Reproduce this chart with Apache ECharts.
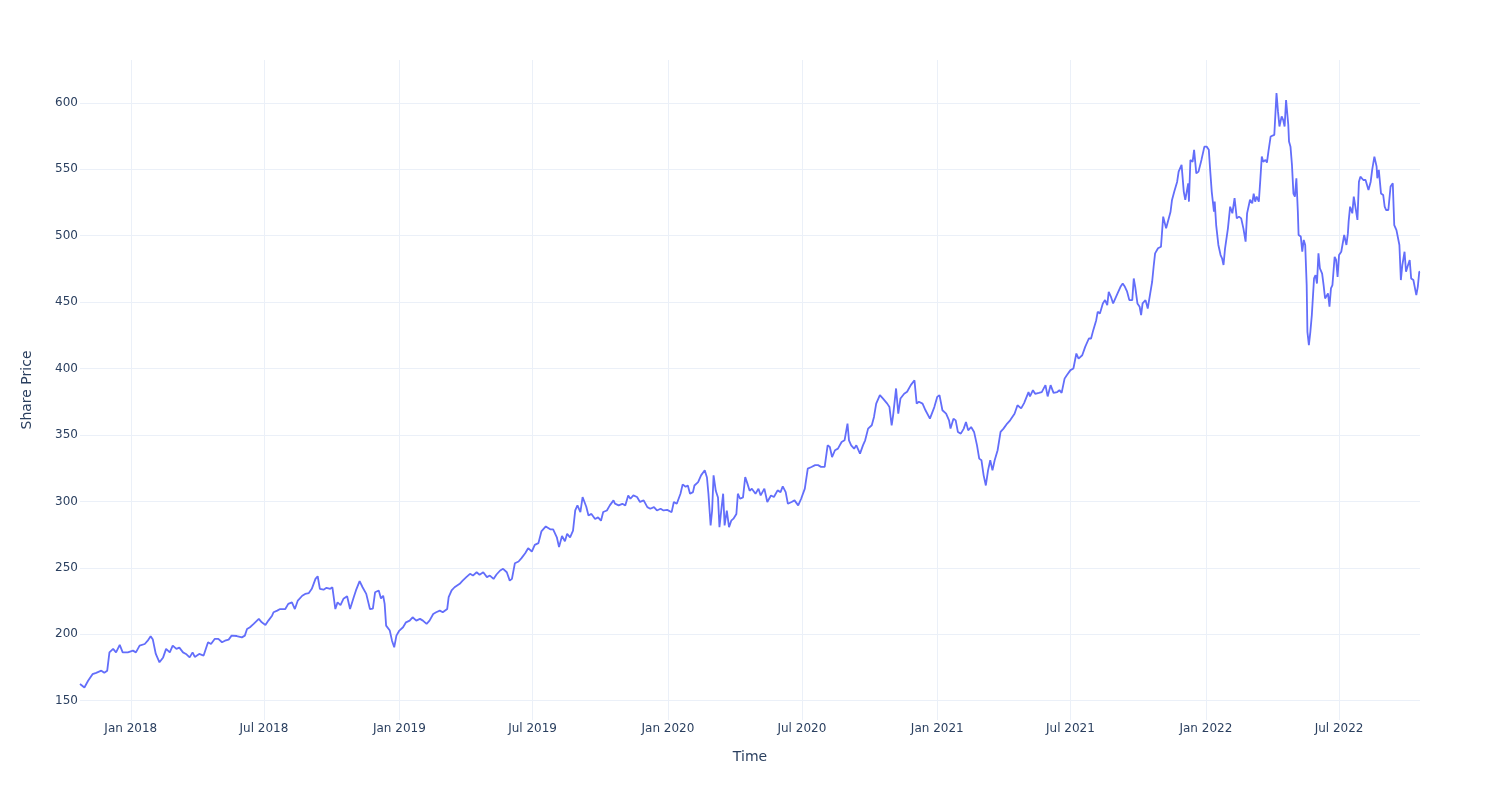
<!DOCTYPE html>
<html>
<head>
<meta charset="utf-8">
<script src="https://cdn.jsdelivr.net/npm/echarts@6/dist/echarts.min.js"></script>
<style>
  html, body { margin: 0; padding: 0; background: #ffffff; }
  #chart { width: 1500px; height: 800px; }
</style>
</head>
<body>
<div id="chart"></div>
<script>
// Trading dates as day offsets from the base date (2018-01-01)
const baseDate = [2018, 0, 1];
const dayOffset = [
-69,-63,-58,-52,-47,-40,-36,-32,-29,-24,-20,-15,-11,-4,3,7,12,19,23,27,30,34,39,44,48,53,57,62,66,71,75,80,84,87,93,99,105,109,114,
119,124,128,133,137,144,151,155,158,162,167,174,178,183,187,192,194,199,203,205,210,214,219,223,227,233,237,242,246,251,254,257,262,266,271,274,278,281,285,289,294,298,
303,306,311,315,320,325,329,332,337,340,343,345,347,352,355,358,361,365,370,374,379,383,388,393,397,402,406,411,415,420,424,430,432,436,440,447,451,456,461,465,470,474,479,
484,488,493,497,502,506,511,515,518,522,527,531,536,540,545,549,554,558,564,570,574,579,582,586,590,593,597,601,604,607,611,614,619,622,626,631,635,639,642,647,651,656,658,
663,668,672,676,679,683,688,692,697,702,706,711,715,720,724,729,735,738,742,747,750,754,757,760,764,766,771,775,780,783,785,788,790,792,795,798,800,803,805,807,810,813,816,819,823,825,828,832,835,838,841,
844,849,853,856,861,865,870,874,879,883,886,890,893,898,902,907,911,916,920,925,930,934,938,943,947,950,953,957,961,966,970,974,976,979,983,986,991,995,998,1002,1007,1010,1013,1018,1022,
1028,1031,1034,1036,1040,1043,1046,1051,1055,1060,1065,1068,1071,1076,1080,1086,1092,1096,1099,1103,1108,1112,1114,1118,1121,1124,1128,1132,1135,1138,1142,1146,1150,1153,1156,1159,1162,1165,1168,1171,1174,1178,1182,1186,1191,1195,1201,1205,1210,
1214,1220,1222,1226,1229,1234,1238,1243,1246,1250,1254,1259,1262,1265,1269,1272,1277,1281,1285,1288,1293,1297,1302,1305,1308,1312,1314,1317,1321,1324,1327,1329,1332,1335,1338,1341,1345,1348,1351,1354,1357,1361,1363,1365,1368,1371,1373,1375,1379,1382,1385,1388,1390,1392,1396,1400,
1403,1407,1409,1413,1415,1418,1422,1424,1426,1428,1431,1433,1437,1438,1440,1443,1445,1448,1451,1455,1459,1462,1465,1467,1469,1472,1473,1475,1478,1481,1483,1485,1487,1491,1494,1497,1500,1503,1506,1509,1512,1515,1517,1519,1521,1524,1526,1528,1530,1533,1535,1537,1539,1542,1544,1546,1549,1551,1554,1557,1559,1561,1564,1566,1568,1570,1573,1574,1576,1578,1580,1582,
1584,1586,1587,1590,1592,1594,1596,1598,1599,1601,1603,1605,1608,1610,1612,1614,1616,1619,1621,1623,1627,1629,1631,1633,1636,1638,1640,1642,1645,1647,1649,1652,1654,1655,1657,1660,1662,1664,1667,1669,1671,1673,1675,1678,1680,1682,1685,1687,1690,1693,1694,1696,1699,1702,1704,1706,1709,1712,1715,1717,1720,1722,1724,1726,1728,1731,1733,1735,1738,1740,1743,1745,1747,1749,1751,1752
];
const sharePrice = [
162.6,160.0,165.0,170.0,171.0,172.6,171.0,172.6,186.4,189.0,186.4,192.0,186.4,186.4,187.7,186.4,191.5,192.7,195.2,198.5,196.0,185.2,178.9,182.6,189.0,186.4,191.5,189.0,190.0,186.4,185.2,182.6,186.4,183.0,185.2,184.0,194.0,192.7,196.5,
196.5,194.0,195.2,196.0,199.0,198.7,197.7,199.0,204.0,205.3,207.8,211.6,209.0,207.0,210.3,214.0,216.6,217.8,219.0,220.3,219.0,222.9,224.0,219.0,225.4,229.0,230.4,231.0,234.2,241.7,243.7,234.2,233.6,235.0,234.2,235.4,219.0,224.0,222.0,226.7,228.6,219.0,
227.9,233.0,240.0,235.4,230.4,219.0,219.3,231.6,233.0,227.0,229.0,222.9,206.5,202.8,195.2,190.2,199.0,202.8,205.3,209.0,210.3,212.8,210.3,211.6,210.3,207.8,210.3,215.3,216.6,217.8,216.6,219.0,227.9,233.0,235.4,238.0,240.4,243.0,245.5,244.2,246.7,244.8,246.7,
243.0,244.2,241.7,245.0,248.0,249.3,246.7,240.4,241.7,253.5,254.8,257.3,261.0,264.8,262.3,267.3,268.6,277.4,281.2,279.0,279.0,273.0,265.6,274.0,270.0,275.6,273.0,278.0,293.2,297.0,292.0,303.3,296.0,289.4,290.6,286.8,288.0,285.5,292.0,293.2,297.0,300.8,298.3,
297.0,298.2,297.0,304.5,302.0,304.5,303.3,299.6,300.8,295.7,294.5,295.7,293.2,294.5,293.2,293.6,291.9,299.6,298.2,305.8,312.8,311.0,312.0,305.8,307.0,312.0,314.5,319.6,323.4,318.0,305.8,281.9,293.0,319.6,308.0,303.0,280.6,296.0,305.8,282.0,293.0,280.6,285.5,287.0,290.6,305.8,302.0,303.0,318.3,313.4,308.0,
309.6,305.8,309.6,304.5,309.6,299.6,304.5,303.3,308.3,307.0,311.3,307.0,298.2,299.6,300.8,297.0,302.0,309.6,324.7,325.9,327.3,327.3,326.0,326.0,342.2,341.0,333.4,338.5,339.7,344.7,346.0,358.6,346.0,342.2,339.7,342.2,336.0,342.2,346.0,354.8,357.3,363.6,373.6,380.0,377.5,
373.6,371.0,357.3,364.8,385.0,366.0,377.5,381.0,382.5,387.5,391.2,373.6,375.0,373.6,368.6,362.3,371.0,378.7,380.0,368.6,366.0,361.0,354.8,362.3,361.0,352.3,351.0,354.8,359.8,353.5,356.0,352.3,342.2,332.2,331.0,319.6,312.0,323.4,331.0,323.4,331.0,338.5,352.3,354.8,358.6,361.0,366.0,372.4,370.0,
374.0,382.3,379.0,383.7,381.0,381.7,382.3,387.5,379.0,387.5,381.7,382.3,383.7,381.7,392.4,395.0,398.8,400.0,411.3,407.5,410.0,416.3,422.6,422.6,428.9,436.4,442.7,441.5,449.0,451.5,447.7,457.8,454.0,449.0,452.8,456.5,461.5,464.0,461.5,457.8,451.5,451.5,467.8,461.5,449.0,446.5,440.2,449.0,451.5,445.2,455.3,465.3,476.6,486.7,490.5,491.7,
514.3,505.5,505.5,518.0,526.9,533.0,540.6,548.2,546.9,553.3,533.0,526.9,539.4,525.6,557.0,555.6,564.6,546.9,548.2,557.0,567.0,567.0,564.6,548.2,533.0,518.0,525.6,508.0,493.0,485.4,483.0,477.9,490.0,505.5,521.8,516.8,528.2,513.0,514.3,513.0,505.5,495.5,516.8,518.0,527.0,524.3,531.7,525.6,529.4,525.6,542.0,559.5,555.6,557.0,555.0,563.3,574.6,575.8,575.8,607.4,593.5,582.2,589.8,587.2,582.2,602.0,583.5,570.8,567.0,553.3,531.7,529.4,
543.2,518.0,500.5,499.3,487.9,496.8,493.0,462.8,427.6,417.6,427.6,440.2,467.8,470.3,464.0,486.7,475.3,471.5,462.8,452.7,456.5,446.5,460.3,462.8,484.1,481.7,469.0,485.4,487.9,487.9,500.5,493.0,501.7,510.6,521.8,516.8,529.4,528.0,511.8,540.6,544.4,545.6,541.9,541.9,540.6,534.3,540.6,549.5,559.5,552.0,543.2,549.5,531.8,530.6,521.8,519.3,519.3,537.0,539.4,508.0,504.2,505.5,493.0,466.6,477.9,487.9,472.8,476.6,481.7,467.8,466.6,467.8,455.3,461.5,472.8,473.0
];
const xTickDates = ['2018-01-01','2018-07-01','2019-01-01','2019-07-01','2020-01-01','2020-07-01','2021-01-01','2021-07-01','2022-01-01','2022-07-01'];
const yTickValues = [150, 200, 250, 300, 350, 400, 450, 500, 550, 600];
const monthNames = ['Jan','Feb','Mar','Apr','May','Jun','Jul','Aug','Sep','Oct','Nov','Dec'];
const xTitle = 'Time';
const yTitle = 'Share Price';

function offsetToTime(d) {
  return new Date(baseDate[0], baseDate[1], baseDate[2] + d).getTime();
}
function isoToTime(s) {
  const p = s.split('-').map(Number);
  return new Date(p[0], p[1] - 1, p[2]).getTime();
}

const seriesData = dayOffset.map((d, i) => [offsetToTime(d), sharePrice[i]]);
const xTicks = xTickDates.map(isoToTime);

const textColor = '#2a3f5f';
const gridColor = '#EBF0F8';
const fontFamily = 'DejaVu Sans, Verdana, sans-serif';

const chart = echarts.init(document.getElementById('chart'), null, { renderer: 'canvas' });
chart.setOption({
  animation: false,
  backgroundColor: '#ffffff',
  grid: { left: 80, right: 80, top: 60, bottom: 80, containLabel: false },
  xAxis: {
    type: 'value',
    scale: true,
    min: seriesData[0][0],
    max: seriesData[seriesData.length - 1][0],
    name: xTitle,
    nameLocation: 'middle',
    nameGap: 30,
    nameTextStyle: { color: textColor, fontSize: 14, fontFamily: fontFamily },
    axisLine: { show: false },
    axisTick: { show: false, customValues: xTicks },
    axisLabel: {
      customValues: xTicks,
      color: textColor, fontSize: 12, fontFamily: fontFamily, margin: 3,
      formatter: function (v) { const d = new Date(v); return monthNames[d.getMonth()] + ' ' + d.getFullYear(); }
    },
    splitLine: { show: true, lineStyle: { color: gridColor, width: 1 } }
  },
  yAxis: {
    type: 'value',
    min: 135.5,
    max: 632.2,
    name: yTitle,
    nameLocation: 'middle',
    nameGap: 46,
    nameTextStyle: { color: textColor, fontSize: 14, fontFamily: fontFamily },
    axisLine: { show: false },
    axisTick: { show: false, customValues: yTickValues },
    axisLabel: { customValues: yTickValues, color: textColor, fontSize: 12, fontFamily: fontFamily, margin: 2 },
    splitLine: { show: true, lineStyle: { color: gridColor, width: 1 } }
  },
  series: [{
    type: 'line',
    data: seriesData,
    showSymbol: false,
    symbol: 'none',
    lineStyle: { color: '#636efa', width: 1.8 },
    itemStyle: { color: '#636efa' }
  }]
});
</script>
</body>
</html>
